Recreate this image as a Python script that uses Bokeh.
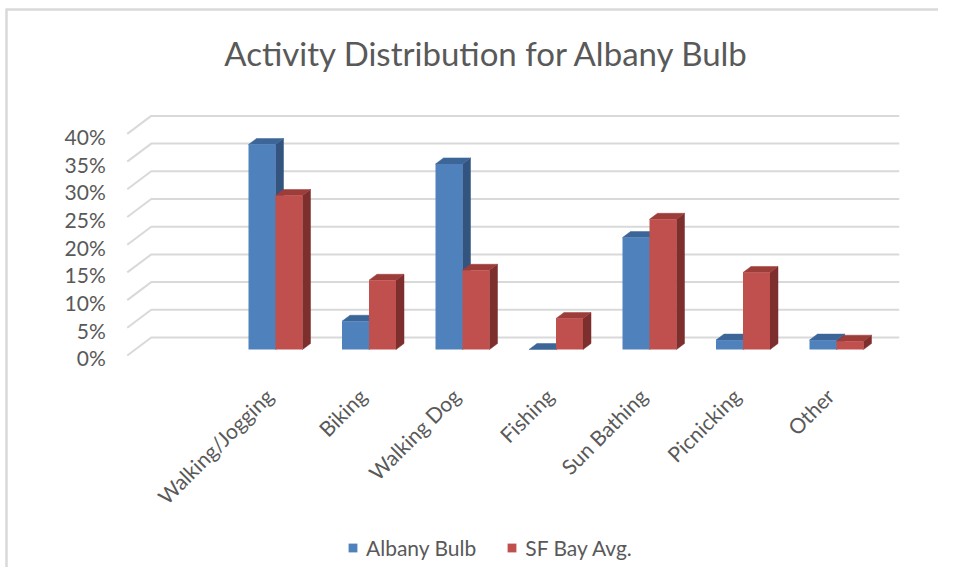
import math
from bokeh.plotting import figure
from bokeh.models import Range1d, Legend, LegendItem
from bokeh.core.properties import value
from bokeh.embed import file_html
from bokeh.resources import INLINE

# ---------------- data ----------------
categories = ["Walking/Jogging", "Biking", "Walking Dog", "Fishing",
              "Sun Bathing", "Picnicking", "Other"]
albany_bulb = [37.0, 5.1, 33.5, 0.0, 20.2, 1.7, 1.7]
sf_bay_avg = [27.8, 12.5, 14.3, 5.6, 23.5, 13.9, 1.5]
series_names = ["Albany Bulb", "SF Bay Avg."]
y_ticks = [0, 5, 10, 15, 20, 25, 30, 35, 40]
y_tick_labels = ["0%", "5%", "10%", "15%", "20%", "25%", "30%", "35%", "40%"]
title_text = "Activity Distribution for Albany Bulb"

# ---------------- layout / style ----------------
W, H = 938, 567
PXX, PXY = 93.5, 5.54          # pixels per category unit / per percent
X0 = -267 / PXX
X1 = X0 + W / PXX
Y0 = -(H - 355) / PXY
Y1 = Y0 + H / PXY

DX = 24 / PXX                  # depth offset of the 3D box
DY = 18 / PXY
FL, FR = -1.5, 6.5             # front-left / front-right of floor
BW = 27 / PXX                  # bar width
F0, F1 = 1 / 3, 2 / 3          # bar depth position (fraction of box depth)

FONT = "Lato"
TXT = "#595959"
GRID = "#D9D9D9"

front_cols = ["#4F81BD", "#C0504D"]
side_cols = ["#33547F", "#7D2F2D"]
top_cols = ["#3D6698", "#9D3D3A"]

p = figure(width=W, height=H, output_backend="svg", toolbar_location=None,
           x_range=Range1d(X0, X1), y_range=Range1d(Y0, Y1),
           x_axis_type=None, y_axis_type=None, title=None,
           min_border=0, min_border_left=0, min_border_right=0,
           min_border_top=0, min_border_bottom=0)
p.outline_line_color = None
p.background_fill_color = "white"
p.border_fill_color = "white"

# chart border (top and left)
p.line(x=[X0 + 5 / PXX, X1], y=[Y1 - 9 / PXY] * 2, line_color=GRID, line_width=2.5)
p.line(x=[X0 + 6 / PXX] * 2, y=[Y0, Y1 - 9 / PXY], line_color=GRID, line_width=2.5)

# back wall + side wall gridlines
gx, gy = [], []
for t in y_ticks:
    gx.append([FL, FL + DX, FR + DX])
    gy.append([t, t + DY, t + DY])
p.multi_line(xs=gx, ys=gy, line_color=GRID, line_width=2)

# y tick labels
p.text(x=[FL - 0.23] * len(y_ticks), y=[t - 0.45 for t in y_ticks],
       text=y_tick_labels, text_align="right", text_baseline="middle",
       text_font=value(FONT), text_font_size="21px", text_color=TXT)

# bars
front_renderers = []
for s, vals in enumerate([albany_bulb, sf_bay_avg]):
    left_off = -BW if s == 0 else 0.0
    lefts, rights, bots, tops = [], [], [], []
    sx, sy, tx, ty = [], [], [], []
    ddx, ddy = (F1 - F0) * DX, (F1 - F0) * DY
    for i, v in enumerate(vals):
        L = i + left_off + F0 * DX
        R = L + BW
        b = F0 * DY
        t = b + v
        lefts.append(L); rights.append(R); bots.append(b); tops.append(t)
        sx.append([R, R + ddx, R + ddx, R])
        sy.append([b, b + ddy, t + ddy, t])
        tx.append([L, L + ddx, R + ddx, R])
        ty.append([t, t + ddy, t + ddy, t])
    p.patches(xs=sx, ys=sy, fill_color=side_cols[s], line_color=side_cols[s], line_width=0.5)
    p.patches(xs=tx, ys=ty, fill_color=top_cols[s], line_color=top_cols[s], line_width=0.5)
    r = p.quad(left=lefts, right=rights, bottom=bots, top=tops,
               fill_color=front_cols[s], line_color=None)
    front_renderers.append(r)

# category labels (rotated 45 degrees)
p.text(x=[i + 0.015 for i in range(len(categories))], y=[-6.6] * len(categories),
       text=categories, angle=math.pi / 4, text_align="right", text_baseline="middle",
       text_font=value(FONT), text_font_size="21px", text_color=TXT)

# title
p.text(x=[(X0 + X1) / 2 + 0.19], y=[54.6], text=[title_text],
       text_align="center", text_baseline="alphabetic",
       text_font=value(FONT), text_font_size="33px", text_color=TXT)

# legend
legend = Legend(items=[LegendItem(label=series_names[k], renderers=[front_renderers[k]])
                       for k in range(2)],
                location=(347, 7), orientation="horizontal",
                border_line_color=None, background_fill_alpha=0,
                padding=0, margin=0, spacing=30,
                glyph_width=11, glyph_height=11, label_standoff=8,
                label_text_font=FONT, label_text_font_size="21px",
                label_text_color=TXT)
p.add_layout(legend)

open("out.html", "w").write(file_html(p, INLINE))
